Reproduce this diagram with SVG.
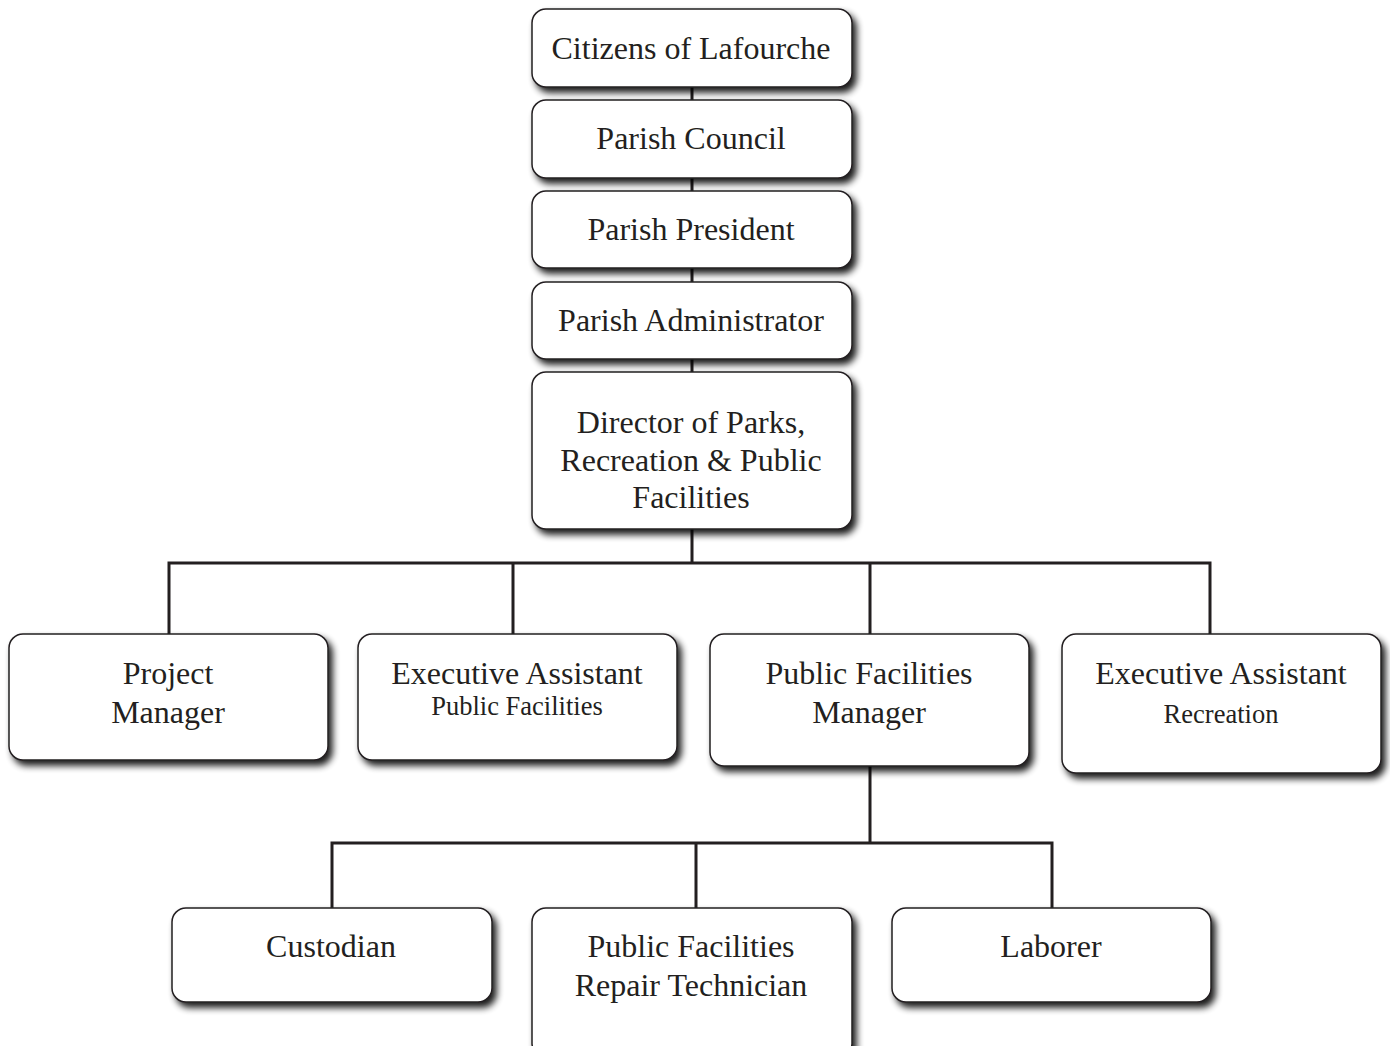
<svg xmlns="http://www.w3.org/2000/svg" width="1390" height="1046" viewBox="0 0 1390 1046">
  <style>
    .box { fill: #ffffff; stroke: #231f20; stroke-width: 1.5; filter: url(#shadow); }
    .t { font-family: "Liberation Serif", "Times New Roman", serif; font-size: 32px; fill: #231f20; text-anchor: middle; }
    .s { font-family: "Liberation Serif", "Times New Roman", serif; font-size: 26.5px; fill: #231f20; text-anchor: middle; }
    .ln { fill: none; stroke: #231f20; stroke-width: 3; }
  </style>
  <defs>
    <filter id="shadow" x="-10%" y="-10%" width="130%" height="140%">
      <feGaussianBlur in="SourceAlpha" stdDeviation="3.5"/>
      <feOffset dx="4" dy="5" result="b"/>
      <feComponentTransfer><feFuncA type="linear" slope="0.9"/></feComponentTransfer>
      <feMerge><feMergeNode/><feMergeNode in="SourceGraphic"/></feMerge>
    </filter>
  </defs>
  <rect width="1390" height="1046" fill="#ffffff"/>

  <g id="connectors">
    <path class="ln" d="M692 87V100M692 178V191M692 268V282M692 359V372"/>
    <path class="ln" d="M692 529V563M169 634V563H1210V634M513 563V634M870 563V634"/>
    <path class="ln" d="M870 766V843M332 908V843H1052V908M696 843V908"/>
  </g>

  <g id="citizens">
    <rect class="box" x="532" y="9" width="320" height="78" rx="14"/>
    <text class="t" x="691" y="59">Citizens of Lafourche</text>
  </g>
  <g id="council">
    <rect class="box" x="532" y="100" width="320" height="78" rx="14"/>
    <text class="t" x="691" y="149">Parish Council</text>
  </g>
  <g id="president">
    <rect class="box" x="532" y="191" width="320" height="77" rx="14"/>
    <text class="t" x="691" y="240">Parish President</text>
  </g>
  <g id="administrator">
    <rect class="box" x="532" y="282" width="320" height="77" rx="14"/>
    <text class="t" x="691" y="331">Parish Administrator</text>
  </g>
  <g id="director">
    <rect class="box" x="532" y="372" width="320" height="157" rx="14"/>
    <text class="t" x="691" y="433">Director of Parks,</text>
    <text class="t" x="691" y="471">Recreation &amp; Public</text>
    <text class="t" x="691" y="508">Facilities</text>
  </g>

  <g id="project-manager">
    <rect class="box" x="9" y="634" width="319" height="126" rx="14"/>
    <text class="t" x="168" y="684">Project</text>
    <text class="t" x="168" y="723">Manager</text>
  </g>
  <g id="exec-assistant-pf">
    <rect class="box" x="358" y="634" width="319" height="126" rx="14"/>
    <text class="t" x="517" y="684">Executive Assistant</text>
    <text class="s" x="517" y="715">Public Facilities</text>
  </g>
  <g id="pf-manager">
    <rect class="box" x="710" y="634" width="319" height="132" rx="14"/>
    <text class="t" x="869" y="684">Public Facilities</text>
    <text class="t" x="869" y="723">Manager</text>
  </g>
  <g id="exec-assistant-rec">
    <rect class="box" x="1062" y="634" width="319" height="139" rx="14"/>
    <text class="t" x="1221" y="684">Executive Assistant</text>
    <text class="s" x="1221" y="723">Recreation</text>
  </g>

  <g id="custodian">
    <rect class="box" x="172" y="908" width="320" height="94" rx="14"/>
    <text class="t" x="331" y="957">Custodian</text>
  </g>
  <g id="repair-technician">
    <rect class="box" x="532" y="908" width="320" height="150" rx="14"/>
    <text class="t" x="691" y="957">Public Facilities</text>
    <text class="t" x="691" y="996">Repair Technician</text>
  </g>
  <g id="laborer">
    <rect class="box" x="892" y="908" width="319" height="94" rx="14"/>
    <text class="t" x="1051" y="957">Laborer</text>
  </g>
</svg>
